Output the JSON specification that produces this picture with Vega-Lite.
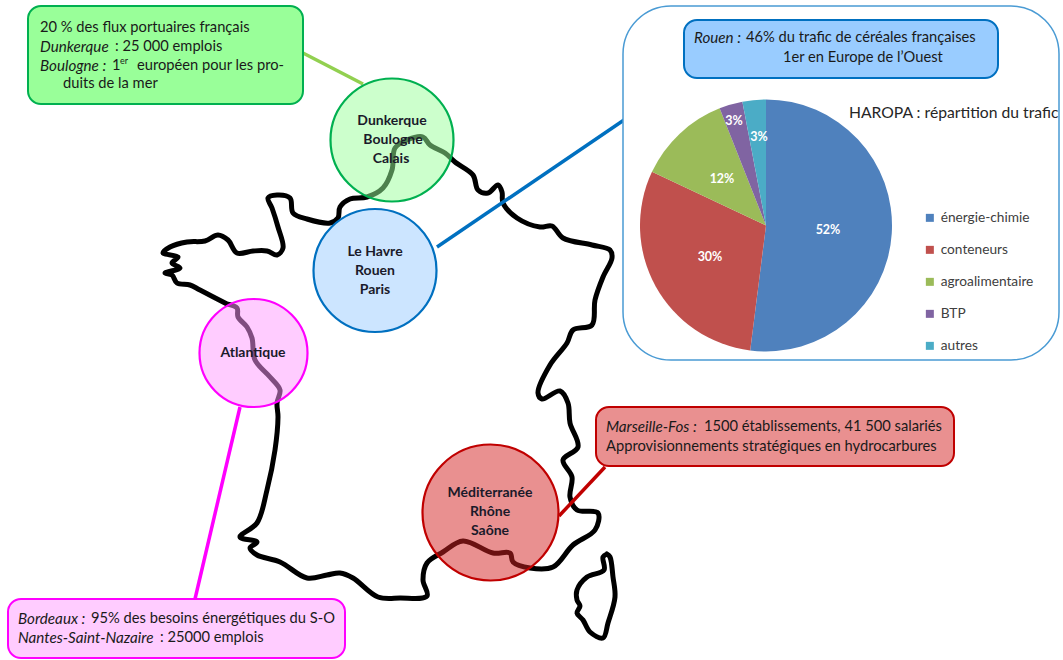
{
"$schema":"https://vega.github.io/schema/vega-lite/v6.json",
"width":1063,"height":660,"autosize":{"type":"fit","contains":"padding"},"padding":0,"background":"white",
"config":{"view":{"stroke":null},"font":"Lato"},
"encoding":{
 "x":{"field":"x","type":"quantitative","scale":{"domain":[0,1063],"nice":false,"zero":false},"axis":null},
 "y":{"field":"y","type":"quantitative","scale":{"domain":[660,0],"nice":false,"zero":false},"axis":null}
},
"resolve":{"scale":{"fill":"independent","stroke":"independent","color":"independent","size":"independent"}},
"layer":[
{"data":{"values":[
{"ile":"continent","rang":1,"x":227,"y":304},{"ile":"continent","rang":2,"x":200,"y":290},{"ile":"continent","rang":3,"x":190,"y":285},{"ile":"continent","rang":4,"x":177,"y":283},{"ile":"continent","rang":5,"x":172,"y":275},{"ile":"continent","rang":6,"x":165,"y":273},{"ile":"continent","rang":7,"x":180,"y":268},{"ile":"continent","rang":8,"x":172,"y":263},{"ile":"continent","rang":9,"x":178,"y":257},{"ile":"continent","rang":10,"x":163,"y":253},{"ile":"continent","rang":11,"x":170,"y":247},{"ile":"continent","rang":12,"x":187,"y":242},{"ile":"continent","rang":13,"x":205,"y":241},{"ile":"continent","rang":14,"x":218,"y":235},{"ile":"continent","rang":15,"x":228,"y":240},{"ile":"continent","rang":16,"x":237,"y":253},{"ile":"continent","rang":17,"x":253,"y":251},{"ile":"continent","rang":18,"x":267,"y":251},{"ile":"continent","rang":19,"x":277,"y":255},{"ile":"continent","rang":20,"x":283,"y":248},{"ile":"continent","rang":21,"x":278,"y":227},{"ile":"continent","rang":22,"x":272,"y":208},{"ile":"continent","rang":23,"x":268,"y":198},{"ile":"continent","rang":24,"x":277,"y":195},{"ile":"continent","rang":25,"x":290,"y":198},{"ile":"continent","rang":26,"x":293,"y":213},{"ile":"continent","rang":27,"x":307,"y":219},{"ile":"continent","rang":28,"x":330,"y":223},{"ile":"continent","rang":29,"x":338,"y":218},{"ile":"continent","rang":30,"x":340,"y":207},{"ile":"continent","rang":31,"x":350,"y":199},{"ile":"continent","rang":32,"x":367,"y":197},{"ile":"continent","rang":33,"x":383,"y":188},{"ile":"continent","rang":34,"x":392,"y":170},{"ile":"continent","rang":35,"x":395,"y":148},{"ile":"continent","rang":36,"x":407,"y":140},{"ile":"continent","rang":37,"x":423,"y":137},{"ile":"continent","rang":38,"x":430,"y":145},{"ile":"continent","rang":39,"x":445,"y":153},{"ile":"continent","rang":40,"x":455,"y":162},{"ile":"continent","rang":41,"x":473,"y":175},{"ile":"continent","rang":42,"x":478,"y":190},{"ile":"continent","rang":43,"x":488,"y":193},{"ile":"continent","rang":44,"x":498,"y":185},{"ile":"continent","rang":45,"x":502,"y":192},{"ile":"continent","rang":46,"x":503,"y":203},{"ile":"continent","rang":47,"x":517,"y":218},{"ile":"continent","rang":48,"x":540,"y":227},{"ile":"continent","rang":49,"x":552,"y":226},{"ile":"continent","rang":50,"x":563,"y":238},{"ile":"continent","rang":51,"x":592,"y":245},{"ile":"continent","rang":52,"x":610,"y":250},{"ile":"continent","rang":53,"x":612,"y":258},{"ile":"continent","rang":54,"x":603,"y":277},{"ile":"continent","rang":55,"x":595,"y":300},{"ile":"continent","rang":56,"x":592,"y":325},{"ile":"continent","rang":57,"x":573,"y":330},{"ile":"continent","rang":58,"x":567,"y":343},{"ile":"continent","rang":59,"x":550,"y":365},{"ile":"continent","rang":60,"x":538,"y":393},{"ile":"continent","rang":61,"x":542,"y":399},{"ile":"continent","rang":62,"x":560,"y":391},{"ile":"continent","rang":63,"x":568,"y":403},{"ile":"continent","rang":64,"x":570,"y":423},{"ile":"continent","rang":65,"x":578,"y":447},{"ile":"continent","rang":66,"x":563,"y":460},{"ile":"continent","rang":67,"x":572,"y":477},{"ile":"continent","rang":68,"x":570,"y":497},{"ile":"continent","rang":69,"x":577,"y":510},{"ile":"continent","rang":70,"x":598,"y":513},{"ile":"continent","rang":71,"x":595,"y":530},{"ile":"continent","rang":72,"x":573,"y":545},{"ile":"continent","rang":73,"x":553,"y":567},{"ile":"continent","rang":74,"x":530,"y":568},{"ile":"continent","rang":75,"x":513,"y":562},{"ile":"continent","rang":76,"x":510,"y":553},{"ile":"continent","rang":77,"x":493,"y":553},{"ile":"continent","rang":78,"x":463,"y":541},{"ile":"continent","rang":79,"x":443,"y":552},{"ile":"continent","rang":80,"x":427,"y":563},{"ile":"continent","rang":81,"x":423,"y":580},{"ile":"continent","rang":82,"x":427,"y":596},{"ile":"continent","rang":83,"x":400,"y":598},{"ile":"continent","rang":84,"x":378,"y":597},{"ile":"continent","rang":85,"x":353,"y":578},{"ile":"continent","rang":86,"x":340,"y":573},{"ile":"continent","rang":87,"x":327,"y":575},{"ile":"continent","rang":88,"x":307,"y":578},{"ile":"continent","rang":89,"x":280,"y":562},{"ile":"continent","rang":90,"x":257,"y":555},{"ile":"continent","rang":91,"x":250,"y":548},{"ile":"continent","rang":92,"x":257,"y":542},{"ile":"continent","rang":93,"x":240,"y":537},{"ile":"continent","rang":94,"x":257,"y":523},{"ile":"continent","rang":95,"x":267,"y":490},{"ile":"continent","rang":96,"x":275,"y":450},{"ile":"continent","rang":97,"x":278,"y":417},{"ile":"continent","rang":98,"x":277,"y":403},{"ile":"continent","rang":99,"x":280,"y":390},{"ile":"continent","rang":100,"x":270,"y":377},{"ile":"continent","rang":101,"x":255,"y":360},{"ile":"continent","rang":102,"x":252,"y":338},{"ile":"continent","rang":103,"x":247,"y":327},{"ile":"continent","rang":104,"x":238,"y":317},{"ile":"continent","rang":105,"x":237,"y":308},{"ile":"continent","rang":106,"x":227,"y":304},
{"ile":"corse","rang":1,"x":607,"y":554},{"ile":"corse","rang":2,"x":603,"y":557},{"ile":"corse","rang":3,"x":604,"y":570},{"ile":"corse","rang":4,"x":587,"y":577},{"ile":"corse","rang":5,"x":577,"y":590},{"ile":"corse","rang":6,"x":577,"y":600},{"ile":"corse","rang":7,"x":580,"y":606},{"ile":"corse","rang":8,"x":577,"y":613},{"ile":"corse","rang":9,"x":583,"y":620},{"ile":"corse","rang":10,"x":590,"y":632},{"ile":"corse","rang":11,"x":603,"y":638},{"ile":"corse","rang":12,"x":608,"y":623},{"ile":"corse","rang":13,"x":615,"y":597},{"ile":"corse","rang":14,"x":613,"y":577},{"ile":"corse","rang":15,"x":610,"y":557},{"ile":"corse","rang":16,"x":607,"y":554}
]},
"mark":{"type":"line","interpolate":"catmull-rom","stroke":"black","strokeWidth":5,"strokeCap":"round","strokeJoin":"round"},
"encoding":{"detail":{"field":"ile"},"order":{"field":"rang","type":"quantitative"}}},

{"data":{"values":[
{"zone":"Nord","x":303,"y":53,"x2":363,"y2":84},
{"zone":"Seine","x":437,"y":247,"x2":624,"y2":120},
{"zone":"Atlantique","x":240,"y":407,"x2":195,"y2":599},
{"zone":"Méditerranée","x":559,"y":516,"x2":605,"y2":467}
]},
"mark":{"type":"rule","strokeWidth":3.5},
"encoding":{"x2":{"field":"x2"},"y2":{"field":"y2"},
"stroke":{"field":"zone","type":"nominal","legend":null,"scale":{"domain":["Nord","Seine","Atlantique","Méditerranée"],"range":["#92d050","#0070c0","#ff00ff","#c00000"]}}}},

{"data":{"values":[
{"zone":"Nord","x":392,"y":140,"rayon":61.5},
{"zone":"Seine","x":375,"y":270.5,"rayon":61.5},
{"zone":"Atlantique","x":253.5,"y":353,"rayon":54},
{"zone":"Méditerranée","x":490.5,"y":512.5,"rayon":68}
]},
"mark":{"type":"circle","opacity":1,"fillOpacity":0.5,"strokeWidth":2.2},
"encoding":{
"size":{"field":"rayon","type":"quantitative","legend":null,"scale":{"type":"pow","exponent":2,"domain":[0,100],"range":[0,40000]}},
"fill":{"field":"zone","type":"nominal","legend":null,"scale":{"domain":["Nord","Seine","Atlantique","Méditerranée"],"range":["#99ff99","#99ccff","#ff99ff","#d32121"]}},
"stroke":{"field":"zone","type":"nominal","legend":null,"scale":{"domain":["Nord","Seine","Atlantique","Méditerranée"],"range":["#00b050","#0070c0","#ff00ff","#c00000"]}}}},

{"data":{"values":[{"zone":"Seine","x":623,"y":6,"x2":1059,"y2":360}]},
"mark":{"type":"rect","cornerRadius":48,"fill":"white","stroke":"#4a9bd4","strokeWidth":1.5},
"encoding":{"x2":{"field":"x2"},"y2":{"field":"y2"}}},

{"data":{"values":[
{"zone":"Nord","x":28,"y":6,"x2":303,"y2":104},
{"zone":"Seine","x":684,"y":20,"x2":998,"y2":78},
{"zone":"Atlantique","x":8,"y":599,"x2":345,"y2":658},
{"zone":"Méditerranée","x":596,"y":407,"x2":954,"y2":466}
]},
"mark":{"type":"rect","cornerRadius":13,"strokeWidth":2},
"encoding":{"x2":{"field":"x2"},"y2":{"field":"y2"},
"fill":{"field":"zone","type":"nominal","legend":null,"scale":{"domain":["Nord","Seine","Atlantique","Méditerranée"],"range":["#99ff99","#99ccff","#ffccff","#e99090"]}},
"stroke":{"field":"zone","type":"nominal","legend":null,"scale":{"domain":["Nord","Seine","Atlantique","Méditerranée"],"range":["#00b050","#0070c0","#ff00ff","#c00000"]}}}},

{"data":{"values":[
{"secteur":"énergie-chimie","part":52,"rang":1,"x":766,"y":225.5},
{"secteur":"conteneurs","part":30,"rang":2,"x":766,"y":225.5},
{"secteur":"agroalimentaire","part":12,"rang":3,"x":766,"y":225.5},
{"secteur":"BTP","part":3,"rang":4,"x":766,"y":225.5},
{"secteur":"autres","part":3,"rang":5,"x":766,"y":225.5}
]},
"transform":[{"stack":"part","sort":[{"field":"rang","order":"ascending"}],"as":["debut","fin"]}],
"mark":{"type":"arc","outerRadius":126,"innerRadius":0},
"encoding":{
"theta":{"field":"debut","type":"quantitative","stack":null,"scale":{"domain":[0,100],"range":[0,6.28319]}},
"theta2":{"field":"fin"},
"color":{"field":"secteur","type":"nominal","scale":{"domain":["énergie-chimie","conteneurs","agroalimentaire","BTP","autres"],"range":["#4f81bd","#c0504d","#9bbb59","#8064a2","#4bacc6"]},
"legend":{"orient":"none","legendX":923,"legendY":211,"title":null,"symbolType":"square","symbolSize":64,"symbolStrokeWidth":0,"labelFont":"Lato","labelFontSize":13.7,"labelColor":"#404040","labelOffset":4,"rowPadding":17}}}},

{"data":{"values":[
{"t":"52%","x":828,"y":230},{"t":"30%","x":710,"y":257},{"t":"12%","x":722,"y":179},{"t":"3%","x":734,"y":121},{"t":"3%","x":759,"y":137}
]},
"mark":{"type":"text","font":"Lato","fontWeight":"bold","fontSize":12.5,"fill":"white","align":"center","baseline":"middle"},
"encoding":{"text":{"field":"t"}}},

{"data":{"values":[{"t":"HAROPA : répartition du trafic","x":849,"y":113}]},
"mark":{"type":"text","font":"Lato","fontSize":15.7,"fill":"#262626","align":"left","baseline":"middle"},
"encoding":{"text":{"field":"t"}}},

{"data":{"values":[
{"t":"Dunkerque","x":392,"y":121},{"t":"Boulogne","x":393,"y":140},{"t":"Calais","x":391,"y":159},
{"t":"Le Havre","x":375,"y":252},{"t":"Rouen","x":375,"y":271},{"t":"Paris","x":375,"y":290},
{"t":"Atlantique","x":253,"y":353},
{"t":"Méditerranée","x":490,"y":493},{"t":"Rhône","x":490,"y":512},{"t":"Saône","x":490,"y":531}
]},
"mark":{"type":"text","font":"Lato","fontWeight":"bold","fontSize":14,"fill":"#1a1a2a","align":"center","baseline":"middle"},
"encoding":{"text":{"field":"t"}}},

{"data":{"values":[
{"t":"20 % des flux portuaires français","x":40,"y":28},
{"t":": 25 000 emplois","x":115,"y":47},
{"t":"1","x":112,"y":66},
{"t":"européen pour les pro-","x":137,"y":66},
{"t":"duits de la mer","x":63,"y":84},
{"t":"46% du trafic de céréales françaises","x":746,"y":38},
{"t":"1er en Europe de l’Ouest","x":783,"y":58},
{"t":"1500 établissements, 41 500 salariés","x":704,"y":427},
{"t":"Approvisionnements stratégiques en hydrocarbures","x":606,"y":447},
{"t":"95% des besoins énergétiques du S-O","x":91,"y":619},
{"t":": 25000 emplois","x":160,"y":638}
]},
"mark":{"type":"text","font":"Lato","fontSize":14.7,"fill":"#1a1a1a","align":"left","baseline":"middle"},
"encoding":{"text":{"field":"t"}}},

{"data":{"values":[
{"t":"Dunkerque","x":40,"y":47},
{"t":"Boulogne :","x":40,"y":66},
{"t":"Rouen :","x":694,"y":38},
{"t":"Marseille-Fos :","x":606,"y":427},
{"t":"Bordeaux :","x":18,"y":619},
{"t":"Nantes-Saint-Nazaire","x":18,"y":638}
]},
"mark":{"type":"text","font":"Lato","fontStyle":"italic","fontSize":15.2,"fill":"#1a1a1a","align":"left","baseline":"middle"},
"encoding":{"text":{"field":"t"}}},

{"data":{"values":[{"t":"er","x":120,"y":61}]},
"mark":{"type":"text","font":"Lato","fontSize":9,"fill":"#1a1a1a","align":"left","baseline":"middle"},
"encoding":{"text":{"field":"t"}}}
]
}
